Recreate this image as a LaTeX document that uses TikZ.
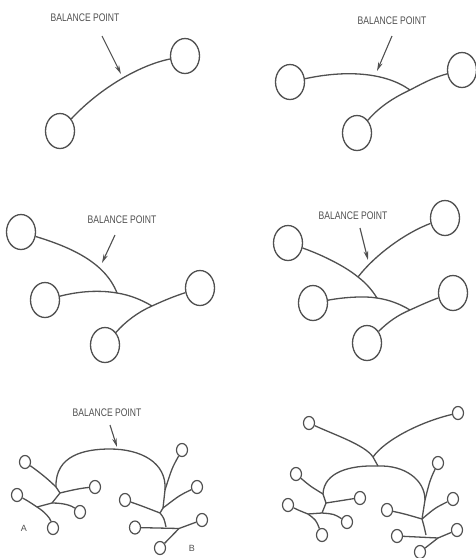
\documentclass[tikz,border=0pt]{standalone}
\usepackage{fontspec}
\setmainfont{Liberation Sans}
\usetikzlibrary{shapes.geometric,arrows.meta}
\definecolor{lc}{RGB}{80,80,80}
\tikzset{
  ln/.style={draw=lc, line width=1.3pt},
  big/.style={ellipse, draw=lc, line width=1.3pt, minimum width=29pt, minimum height=35pt, inner sep=0pt},
  sm/.style={ellipse, draw=lc, line width=1.2pt, minimum width=11pt, minimum height=13pt, inner sep=0pt},
  lbl/.style={text=lc, inner sep=0pt, font=\fontsize{11}{12}\selectfont},
  ab/.style={text=lc, inner sep=0pt, font=\fontsize{9}{10}\selectfont},
  arr/.style={draw=lc, line width=1.1pt, -{Stealth[length=9pt,width=4.5pt]}}
}
\newcommand{\bp}{\scalebox{0.78}[1]{BALANCE POINT}}
\begin{document}
\begin{tikzpicture}[x=1pt,y=-1pt]
\useasboundingbox[fill=white] (0,0) rectangle (475,558);

% ---------- Panel 1 ----------
\node[big] (p1a) at (60,131) {};
\node[big] (p1b) at (185,56) {};
\draw[ln] (p1a) .. controls (100,88) and (140,65) .. (p1b);
\node[lbl] (l1) at (85,18) {\bp};
\coordinate (t1s) at (102,36);
\coordinate (t1e) at (121,74);
\draw[arr] (t1s) -- (t1e);

% ---------- Panel 2 ----------
\node[big] (p2a) at (290,82) {};
\node[big] (p2b) at (462,70) {};
\node[big] (p2c) at (357,133) {};
\coordinate (j2) at (410,90);
\draw[ln] (p2a) .. controls (345,70) and (385,72) .. (j2);
\draw[ln] (p2c) .. controls (380,106) and (395,97) .. (j2) .. controls (425,82) and (435,77) .. (p2b);
\node[lbl] (l2) at (392,21) {\bp};
\coordinate (t2s) at (392,36);
\coordinate (t2e) at (377,71);
\draw[arr] (t2s) -- (t2e);

% ---------- Panel 3 ----------
\node[big] (p3a) at (21,232) {};
\node[big] (p3b) at (45,300) {};
\node[big] (p3c) at (200,288) {};
\node[big] (p3d) at (105,345) {};
\coordinate (j3a) at (117,293);
\coordinate (j3b) at (152,306);
\draw[ln] (p3a) .. controls (70,247) and (105,262) .. (j3a);
\draw[ln] (p3b) .. controls (80,291) and (100,290) .. (j3a) .. controls (130,295) and (142,300) .. (j3b);
\draw[ln] (p3d) .. controls (125,322) and (138,312) .. (j3b) .. controls (165,300) and (175,296) .. (p3c);
\node[lbl] (l3) at (122,220) {\bp};
\coordinate (t3s) at (115,235);
\coordinate (t3e) at (102,263);
\draw[arr] (t3s) -- (t3e);

% ---------- Panel 4 ----------
\node[big] (p4a) at (288,243) {};
\node[big] (p4b) at (445,218) {};
\node[big] (p4c) at (313,303) {};
\node[big] (p4d) at (453,293) {};
\node[big] (p4e) at (367,343) {};
\coordinate (j4a) at (358,277);
\coordinate (j4b) at (377,298);
\coordinate (j4c) at (410,310);
\draw[ln] (p4a) .. controls (320,254) and (345,266) .. (j4a) .. controls (366,283) and (372,290) .. (j4b);
\draw[ln] (j4a) .. controls (375,255) and (405,233) .. (p4b);
\draw[ln] (p4c) .. controls (345,297) and (365,296) .. (j4b) .. controls (390,300) and (400,304) .. (j4c);
\draw[ln] (p4e) .. controls (388,322) and (398,315) .. (j4c) .. controls (425,303) and (435,299) .. (p4d);
\node[lbl] (l4) at (353,216) {\bp};
\coordinate (t4s) at (360,228);
\coordinate (t4e) at (368,260);
\draw[arr] (t4s) -- (t4e);

% ---------- Panel 5 ----------
\node[lbl] (l5) at (107,413) {\bp};
\coordinate (t5s) at (110,425);
\coordinate (t5e) at (117,447);
\draw[arr] (t5s) -- (t5e);
% tree A
\node[sm] (a1) at (25,462) {};
\node[sm] (a2) at (95,487) {};
\node[sm] (a3) at (17,495) {};
\node[sm] (a4) at (80,512) {};
\node[sm] (a5) at (53,528) {};
\coordinate (ja0) at (56,487);
\coordinate (ja1) at (60,493);
\coordinate (ja2) at (52,503);
\coordinate (ja3) at (37,507);
\draw[ln] (a1) .. controls (42,474) and (50,481) .. (ja0) .. controls (58,490) .. (ja1);
\draw[ln] (ja1) .. controls (72,490) and (82,488) .. (a2);
\draw[ln] (ja1) -- (ja2);
\draw[ln] (ja2) .. controls (65,503) and (72,506) .. (a4);
\draw[ln] (a3) .. controls (28,501) .. (ja3) .. controls (45,512) and (50,518) .. (a5);
\draw[ln] (ja3) -- (ja2);
\node[ab] (lA) at (24,528) {A};
% arch
\coordinate (top5) at (110,449);
\coordinate (jb0) at (165,490);
\draw[ln] (ja0) .. controls (55,455) and (85,449) .. (top5) .. controls (140,449) and (167,462) .. (jb0);
% tree B
\node[sm] (b1) at (182,450) {};
\node[sm] (b2) at (197,487) {};
\node[sm] (b3) at (125,500) {};
\node[sm] (b4) at (135,527.5) {};
\node[sm] (b5) at (202,520) {};
\node[sm] (b6) at (160,548) {};
\coordinate (jb1) at (163,508);
\coordinate (jb2) at (160,513);
\coordinate (jb3) at (166,527);
\coordinate (jb4) at (179,528.5);
\draw[ln] (b1) .. controls (172,468) .. (jb0);
\draw[ln] (jb0) -- (jb1) -- (jb2);
\draw[ln] (b2) .. controls (180,495) .. (jb1);
\draw[ln] (b3) .. controls (142,506) .. (jb2) .. controls (164,518) .. (jb3);
\draw[ln] (b4) -- (jb4);
\draw[ln] (b5) -- (jb4) -- (b6);
\node[ab] (lB) at (192,548) {B};

% ---------- Panel 6 ----------
\node[sm] (e1) at (309,423) {};
\node[sm] (e2) at (458,413) {};
\coordinate (je) at (373,457);
\coordinate (top6) at (378,466);
\draw[ln] (e1) .. controls (335,435) and (365,445) .. (je) -- (top6);
\draw[ln] (je) .. controls (385,440) and (420,422) .. (e2);
\coordinate (jc0) at (323,494);
\coordinate (jd0) at (425,500);
\draw[ln] (jc0) .. controls (324,472) and (350,465) .. (top6) .. controls (405,465) and (425,480) .. (jd0);
% left tree
\node[sm] (c1) at (296,474) {};
\node[sm] (c2) at (360,498) {};
\node[sm] (c3) at (288,505) {};
\node[sm] (c4) at (347,522) {};
\node[sm] (c5) at (322,535) {};
\coordinate (jc1) at (326,503);
\coordinate (jc2) at (322,513);
\coordinate (jc3) at (308,514);
\draw[ln] (c1) .. controls (310,486) .. (jc0) -- (jc1);
\draw[ln] (jc1) .. controls (340,500) .. (c2);
\draw[ln] (jc1) -- (jc2);
\draw[ln] (jc2) .. controls (334,514) .. (c4);
\draw[ln] (c3) .. controls (298,510) .. (jc3) .. controls (316,520) .. (c5);
\draw[ln] (jc3) -- (jc2);
% right tree
\node[sm] (d1) at (438,463) {};
\node[sm] (d2) at (453,499) {};
\node[sm] (d3) at (387,510) {};
\node[sm] (d4) at (397,536) {};
\node[sm] (d5) at (457,530) {};
\node[sm] (d6) at (420,552) {};
\coordinate (jd1) at (422,519);
\coordinate (jd3) at (426,535);
\coordinate (jd4) at (438,538);
\draw[ln] (d1) .. controls (430,480) .. (jd0);
\draw[ln] (jd0) -- (jd1);
\draw[ln] (d2) .. controls (435,508) .. (jd1);
\draw[ln] (d3) .. controls (405,514) .. (jd1) .. controls (424,526) .. (jd3);
\draw[ln] (d4) -- (jd4);
\draw[ln] (d5) -- (jd4) -- (d6);
\end{tikzpicture}
\end{document}
